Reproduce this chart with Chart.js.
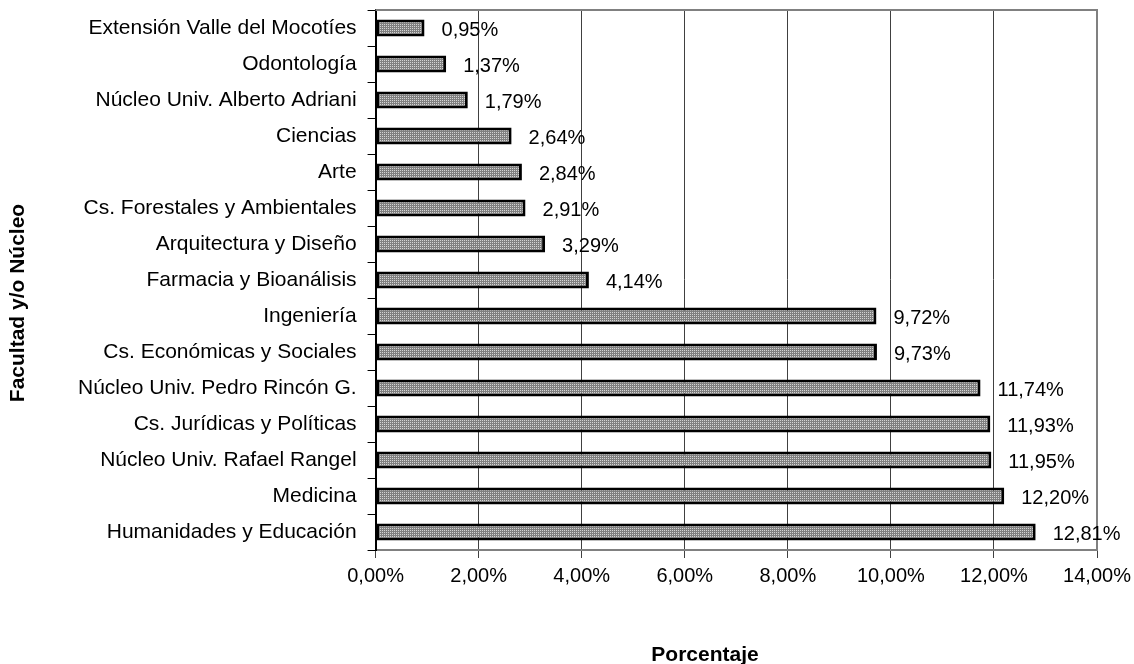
<!DOCTYPE html>
<html>
<head>
<meta charset="utf-8">
<script src="https://cdn.jsdelivr.net/npm/chart.js@4"></script>
<style>
  html, body { margin: 0; padding: 0; background: #fff; }
  #wrap { width: 1134px; height: 664px; }
</style>
</head>
<body>
<div id="wrap"><canvas id="myChart"></canvas></div>
<script>
const facultades = [
    'Extensión Valle del Mocotíes',
    'Odontología',
    'Núcleo Univ. Alberto Adriani',
    'Ciencias',
    'Arte',
    'Cs. Forestales y Ambientales',
    'Arquitectura y Diseño',
    'Farmacia y Bioanálisis',
    'Ingeniería',
    'Cs. Económicas y Sociales',
    'Núcleo Univ. Pedro Rincón G.',
    'Cs. Jurídicas y Políticas',
    'Núcleo Univ. Rafael Rangel',
    'Medicina',
    'Humanidades y Educación'
]
const porcentajes = [0.95, 1.37, 1.79, 2.64, 2.84, 2.91, 3.29, 4.14, 9.72, 9.73, 11.74, 11.93, 11.95, 12.20, 12.81]
const xTicks = [0, 2, 4, 6, 8, 10, 12, 14]
const tituloX = 'Porcentaje'
const tituloY = 'Facultad y/o Núcleo'

const FONT = '"Liberation Sans", Arial, sans-serif'
const fmt = v => v.toFixed(2).replace('.', ',') + '%'

// dotted gray fill like the original (light dots on mid gray)
const pc = document.createElement('canvas')
pc.width = 2
pc.height = 2
const pctx = pc.getContext('2d')
pctx.fillStyle = '#808080'
pctx.fillRect(0, 0, 2, 2)
pctx.fillStyle = '#d4d4d4'
pctx.fillRect(0, 0, 1, 1)

const ctx = document.getElementById('myChart')
const pattern = ctx.getContext('2d').createPattern(pc, 'repeat')

const extras = {
    id: 'extras',
    beforeDatasetsDraw(chart) {
        // gray frame on top and right of plot area
        const a = chart.chartArea
        const c = chart.ctx
        c.save()
        c.strokeStyle = '#808080'
        c.lineWidth = 2
        c.beginPath()
        c.moveTo(a.left, a.top)
        c.lineTo(a.right, a.top)
        c.lineTo(a.right, a.bottom)
        c.stroke()
        c.restore()
    },
    afterDatasetsDraw(chart) {
        const c = chart.ctx
        const meta = chart.getDatasetMeta(0)
        c.save()
        c.font = '20px ' + FONT
        c.fillStyle = '#000'
        c.textBaseline = 'middle'
        meta.data.forEach((bar, i) => {
            c.fillText(fmt(porcentajes[i]), bar.x + 17, bar.y + 2)
        })
        // axis titles
        c.font = 'bold 21px ' + FONT
        c.textAlign = 'center'
        c.fillText(tituloX, 705, 655)
        c.translate(18, 303)
        c.rotate(-Math.PI / 2)
        c.fillText(tituloY, 0, 0)
        c.restore()
    }
}

new Chart(ctx, {
    type: 'bar',
    data: {
        labels: facultades,
        datasets: [{
            data: porcentajes,
            backgroundColor: pattern,
            borderColor: '#000',
            borderWidth: 3,
            borderSkipped: false,
            barPercentage: 0.47,
            categoryPercentage: 1
        }]
    },
    plugins: [extras],
    options: {
        indexAxis: 'y',
        responsive: true,
        maintainAspectRatio: false,
        animation: false,
        layout: { padding: { top: 10, right: 37, left: 67, bottom: 70 } },
        plugins: {
            legend: { display: false },
            tooltip: { enabled: false }
        },
        scales: {
            x: {
                min: 0,
                max: 14,
                afterBuildTicks: axis => { axis.ticks = xTicks.map(v => ({ value: v })) },
                afterFit: axis => { axis.paddingRight = 0; axis.paddingLeft = 0 },
                grid: { color: '#404040', lineWidth: 1, tickLength: 8, drawTicks: true },
                border: { color: '#808080', width: 2 },
                ticks: {
                    color: '#000',
                    font: { family: FONT, size: 20 },
                    padding: 6,
                    maxRotation: 0,
                    callback: v => fmt(v)
                }
            },
            y: {
                afterFit: axis => { axis.paddingTop = 0; axis.paddingBottom = 0 },
                grid: { drawOnChartArea: false, offset: true, tickLength: 8, color: '#000' },
                border: { color: '#000', width: 2 },
                ticks: {
                    color: '#000',
                    font: { family: FONT, size: 21 },
                    padding: 11,
                    autoSkip: false
                }
            }
        }
    }
});
</script>
</body>
</html>
